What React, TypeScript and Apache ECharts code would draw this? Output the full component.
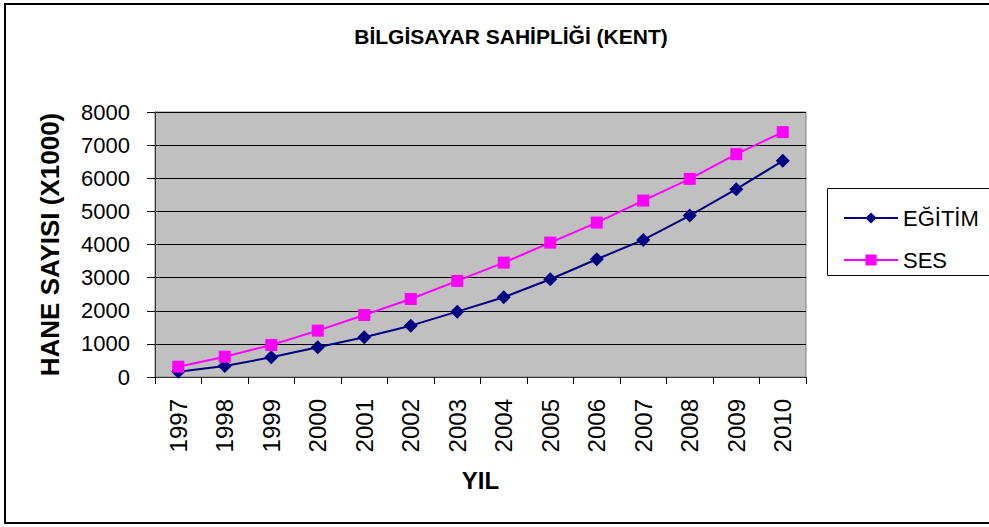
import React, { useEffect, useRef } from "react";
import * as echarts from "echarts";

const years = ["1997","1998","1999","2000","2001","2002","2003","2004","2005","2006","2007","2008","2009","2010"];
const egitim = [160, 332, 595, 897, 1199, 1550, 1973, 2407, 2950, 3556, 4139, 4873, 5671, 6526];
const ses = [311, 613, 967, 1399, 1873, 2356, 2900, 3453, 4057, 4662, 5326, 5982, 6728, 7393];
const yTicks = { min: 0, max: 8000, interval: 1000 };

const FONT = "'Liberation Sans', Arial, sans-serif";

export default function App() {
  const ref = useRef<HTMLDivElement>(null);
  useEffect(() => {
    if (!ref.current) return;
    const chart = echarts.init(ref.current, null, { renderer: "svg" });
    chart.setOption({
      animation: false,
      backgroundColor: "#ffffff",
      textStyle: { fontFamily: FONT },
      title: {
        text: "BİLGİSAYAR SAHİPLİĞİ (KENT)",
        left: 506,
        textAlign: "center",
        top: 21,
        textStyle: { fontFamily: FONT, fontSize: 21, fontWeight: "bold", color: "#000" },
      },
      graphic: [
        {
          type: "rect",
          shape: { x: 5, y: 4, width: 1000, height: 519 },
          style: { fill: "none", stroke: "#000", lineWidth: 2 },
          silent: true,
        },
        {
          type: "rect",
          shape: { x: 827.5, y: 188.5, width: 200, height: 87 },
          style: { fill: "#fff", stroke: "#000", lineWidth: 1 },
          silent: true,
          z: -1,
        },
      ],
      legend: {
        orient: "vertical",
        left: 838,
        top: 202,
        itemWidth: 54,
        itemHeight: 14,
        itemGap: 20,
        textStyle: { fontFamily: FONT, fontSize: 22, color: "#000", lineHeight: 22, padding: [0, 0, 0, 0] },
        data: ["EĞİTİM", "SES"],
      },
      grid: {
        left: 155,
        top: 112,
        right: 183,
        bottom: 150,
        show: true,
        backgroundColor: "#c0c0c0",
        borderColor: "#808080",
        borderWidth: 1,
      },
      xAxis: {
        type: "category",
        data: years,
        boundaryGap: true,
        name: "YIL",
        nameLocation: "middle",
        nameGap: 91,
        nameTextStyle: { fontFamily: FONT, fontSize: 24, fontWeight: "bold", color: "#000" },
        axisLine: { show: true, lineStyle: { color: "#333", width: 1 } },
        axisTick: { show: true, inside: false, length: 7, lineStyle: { color: "#000" } },
        axisLabel: { rotate: 90, margin: 22, fontFamily: FONT, fontSize: 24, color: "#000", interval: 0 },
        splitLine: { show: false },
      },
      yAxis: {
        type: "value",
        min: yTicks.min,
        max: yTicks.max,
        interval: yTicks.interval,
        name: "HANE SAYISI (X1000)",
        nameLocation: "middle",
        nameRotate: 90,
        nameGap: 92,
        nameTextStyle: { fontFamily: FONT, fontSize: 26, fontWeight: "bold", color: "#000" },
        axisLine: { show: true, lineStyle: { color: "#333", width: 1 } },
        axisTick: { show: true, inside: false, length: 8, lineStyle: { color: "#000" } },
        axisLabel: {
          margin: 25,
          fontFamily: FONT,
          fontSize: 22,
          color: "#000",
          formatter: (v: number) => String(v),
        },
        splitLine: { show: true, lineStyle: { color: "#000", width: 1 } },
      },
      series: [
        {
          name: "EĞİTİM",
          type: "line",
          data: egitim,
          symbol: "diamond",
          symbolSize: 14,
          itemStyle: { color: "#000080" },
          lineStyle: { color: "#000080", width: 2 },
        },
        {
          name: "SES",
          type: "line",
          data: ses,
          symbol: "rect",
          symbolSize: 12,
          itemStyle: { color: "#ff00ff" },
          lineStyle: { color: "#ff00ff", width: 2 },
        },
      ],
    });
    return () => chart.dispose();
  }, []);
  return (
    <div
      ref={ref}
      style={{ position: "absolute", left: 0, top: 0, width: 989, height: 527 }}
    />
  );
}
